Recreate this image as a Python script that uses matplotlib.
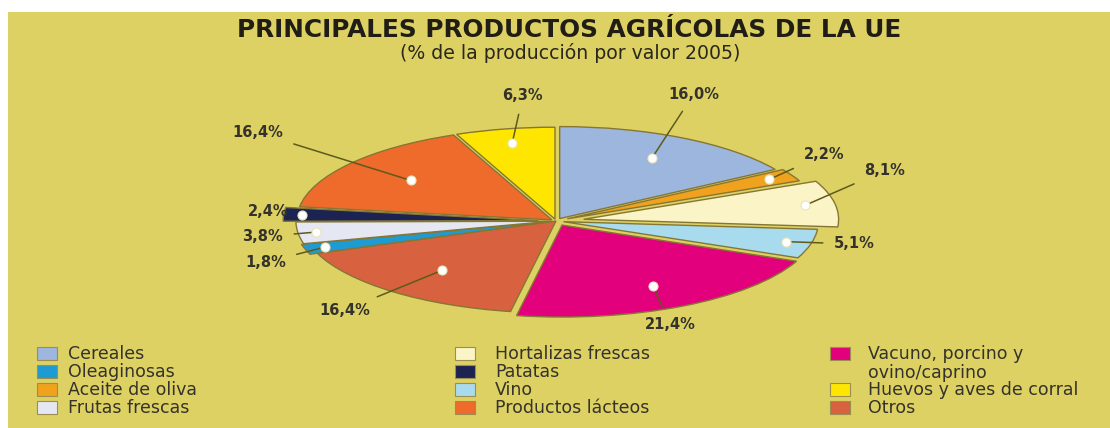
import numpy as np
import matplotlib
matplotlib.use("Agg")
import matplotlib.pyplot as plt
from matplotlib.patches import Rectangle

# Data (share of EU agricultural production value, 2005), clockwise from 12 o'clock
categories = ["Cereales", "Aceite de oliva", "Hortalizas frescas", "Vino",
              "Vacuno, porcino y\novino/caprino", "Otros", "Oleaginosas",
              "Frutas frescas", "Patatas", "Productos lácteos",
              "Huevos y aves de corral"]
values = [16.0, 2.2, 8.1, 5.1, 21.4, 16.4, 1.8, 3.8, 2.4, 16.4, 6.3]
value_labels = ["16,0%", "2,2%", "8,1%", "5,1%", "21,4%", "16,4%",
                "1,8%", "3,8%", "2,4%", "16,4%", "6,3%"]
colors = ["#9cb6dd", "#f0a21e", "#fbf4c6", "#a9dbef", "#e2007c", "#d8623f",
          "#1e9bd2", "#e5e8f2", "#1c2352", "#ee6b2b", "#ffe600"]

# legend layout: 3 columns x 4 rows
legend_cols = [
    ["Cereales", "Oleaginosas", "Aceite de oliva", "Frutas frescas"],
    ["Hortalizas frescas", "Patatas", "Vino", "Productos lácteos"],
    ["Vacuno, porcino y\novino/caprino", None, "Huevos y aves de corral", "Otros"],
]

# style / layout
explode = [0.03, 0.05, 0.11, 0.03, 0.05, 0.0, 0.03, 0.02, 0.07, 0.02, 0.02]
dot_r = [0.75, 0.9, 0.88, 0.9, 0.75, 0.7, 0.92, 0.93, 0.93, 0.7, 0.85]
# label anchor points in pie-axes data units
label_xy = [(0.54, 1.38), (1.05, 0.72), (1.29, 0.55), (1.17, -0.25),
            (0.45, -1.13), (-0.83, -0.97), (-1.14, -0.45), (-1.15, -0.17),
            (-1.13, 0.10), (-1.17, 0.96), (-0.13, 1.36)]
BG = "#ddd163"
EDGE = "#857634"
TXT = "#34322a"
LINE = "#5d5a1c"
W, H = 1110, 428

fig = plt.figure(figsize=(W / 100, H / 100), dpi=100)
fig.patch.set_facecolor("white")
fig.patches.append(Rectangle((8 / W, 0), 1 - 8 / W, 416 / H, transform=fig.transFigure,
                             facecolor=BG, edgecolor="none", zorder=-5))

fig.text(569 / W, 1 - 30 / H, "PRINCIPALES PRODUCTOS AGRÍCOLAS DE LA UE",
         ha="center", va="center", fontsize=17.8, fontweight="bold", color="#1f1d16")
fig.text(570 / W, 1 - 53 / H, "(% de la producción por valor 2005)",
         ha="center", va="center", fontsize=13.6, color="#2a281e")

# pie axes: centre (556, 221) px, rx 255 px, ry 92 px
cx, cy, rx, ry = 556, 221, 255, 92
ax = fig.add_axes([(cx - 1.25 * rx) / W, (H - cy - 1.25 * ry) / H,
                   2.5 * rx / W, 2.5 * ry / H])
wedges, _ = ax.pie(values, colors=colors, startangle=90, counterclock=False,
                   explode=explode,
                   wedgeprops=dict(edgecolor=EDGE, linewidth=1.0))
ax.set_aspect("auto")
ax.set_xlim(-1.25, 1.25)
ax.set_ylim(-1.25, 1.25)
ax.axis("off")

for i, w in enumerate(wedges):
    mid = np.deg2rad((w.theta1 + w.theta2) / 2)
    x0, y0 = w.center
    dx = x0 + dot_r[i] * np.cos(mid)
    dy = y0 + dot_r[i] * np.sin(mid)
    ax.annotate(value_labels[i], xy=(dx, dy), xytext=label_xy[i],
                ha="center", va="center", fontsize=10.5, fontweight="bold",
                color=TXT, annotation_clip=False,
                arrowprops=dict(arrowstyle="-", color=LINE, lw=1.1,
                                shrinkA=6, shrinkB=0))
    ax.plot(dx, dy, "o", ms=6.5, mfc="white", mec="#e8e4c0", mew=0.8, zorder=5)

# legend
sq_x = [37, 455, 830]
text_x = [68, 495, 868]
row_y = [354, 372, 390, 408]
color_of = {c: colors[i] for i, c in enumerate(categories)}
for ci, col in enumerate(legend_cols):
    for ri, name in enumerate(col):
        if name is None:
            continue
        fig.patches.append(Rectangle((sq_x[ci] / W, 1 - (row_y[ri] + 6) / H),
                                     20 / W, 13 / H, transform=fig.transFigure,
                                     facecolor=color_of[name], edgecolor="#9a8e50",
                                     linewidth=0.8, zorder=2))
        if "\n" in name:
            fig.text(text_x[ci] / W, 1 - (row_y[ri] - 9) / H, name, ha="left", va="top",
                     fontsize=12.5, color=TXT, linespacing=1.05)
        else:
            fig.text(text_x[ci] / W, 1 - row_y[ri] / H, name, ha="left", va="center",
                     fontsize=12.5, color=TXT)

fig.savefig("out.png", dpi=100, facecolor=fig.get_facecolor())
